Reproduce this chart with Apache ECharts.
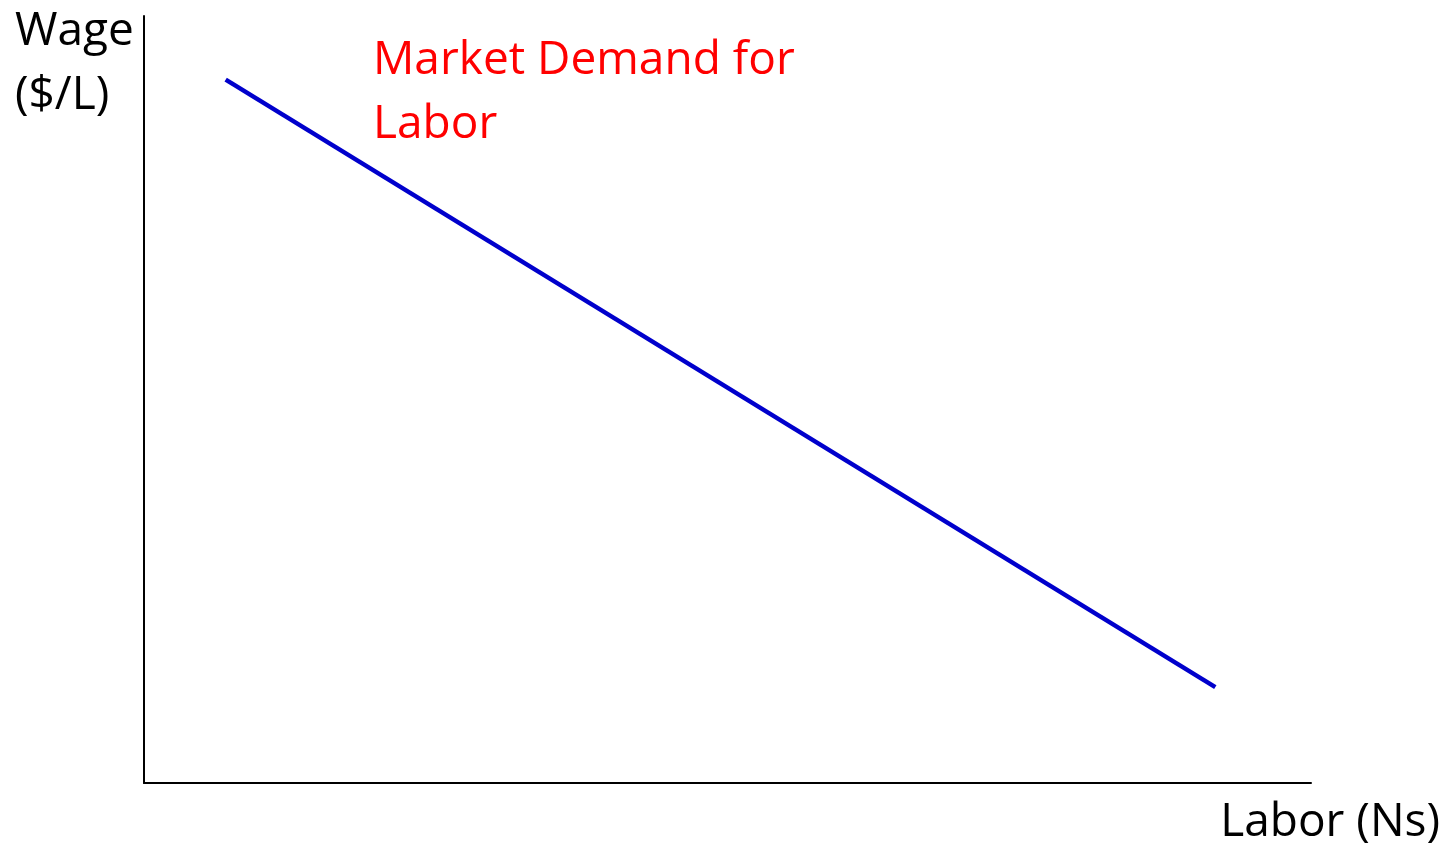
<!DOCTYPE html>
<html>
<head>
<meta charset="utf-8">
<script src="https://cdn.jsdelivr.net/npm/echarts@6/dist/echarts.min.js"></script>
<style>
  html, body { margin: 0; padding: 0; background: #fff; }
  #chart { width: 1451px; height: 849px; }
</style>
</head>
<body>
<div id="chart"></div>
<script>
// demand curve end points (axes run 0..100)
const laborVals = [7, 91.8];
const wageVals = [91.7, 12.5];
const curveName = 'Market Demand for\nLabor';
const yTitle = 'Wage\n($/L)';
const xTitle = 'Labor (Ns)';

const font = '"Open Sans", "Noto Sans", sans-serif';

let myChart = echarts.init(document.getElementById('chart'));
let options = {
  animation: false,
  grid: {
    left: 144,
    right: 140,
    top: 16,
    bottom: 66
  },
  xAxis: {
    type: 'value',
    min: 0,
    max: 100,
    axisLine: { show: true, lineStyle: { color: '#000', width: 2 } },
    axisTick: { show: false },
    axisLabel: { show: false },
    splitLine: { show: false }
  },
  yAxis: {
    type: 'value',
    min: 0,
    max: 100,
    axisLine: { show: true, lineStyle: { color: '#000', width: 2 } },
    axisTick: { show: false },
    axisLabel: { show: false },
    splitLine: { show: false }
  },
  graphic: [
    {
      type: 'text',
      left: 15,
      top: 0,
      style: { text: yTitle, font: '46px ' + font, fill: '#000', lineHeight: 64 }
    },
    {
      type: 'text',
      left: 373,
      top: 29,
      style: { text: curveName, font: '46px ' + font, fill: '#ff0000', lineHeight: 64 }
    },
    {
      type: 'text',
      right: 11,
      top: 800,
      style: { text: xTitle, font: '46px ' + font, fill: '#000' }
    }
  ],
  series: [
    {
      type: 'line',
      data: laborVals.map((x, i) => [x, wageVals[i]]),
      symbol: 'none',
      lineStyle: { color: '#0000cc', width: 4.5 }
    }
  ]
};
myChart.setOption(options);
</script>
</body>
</html>
